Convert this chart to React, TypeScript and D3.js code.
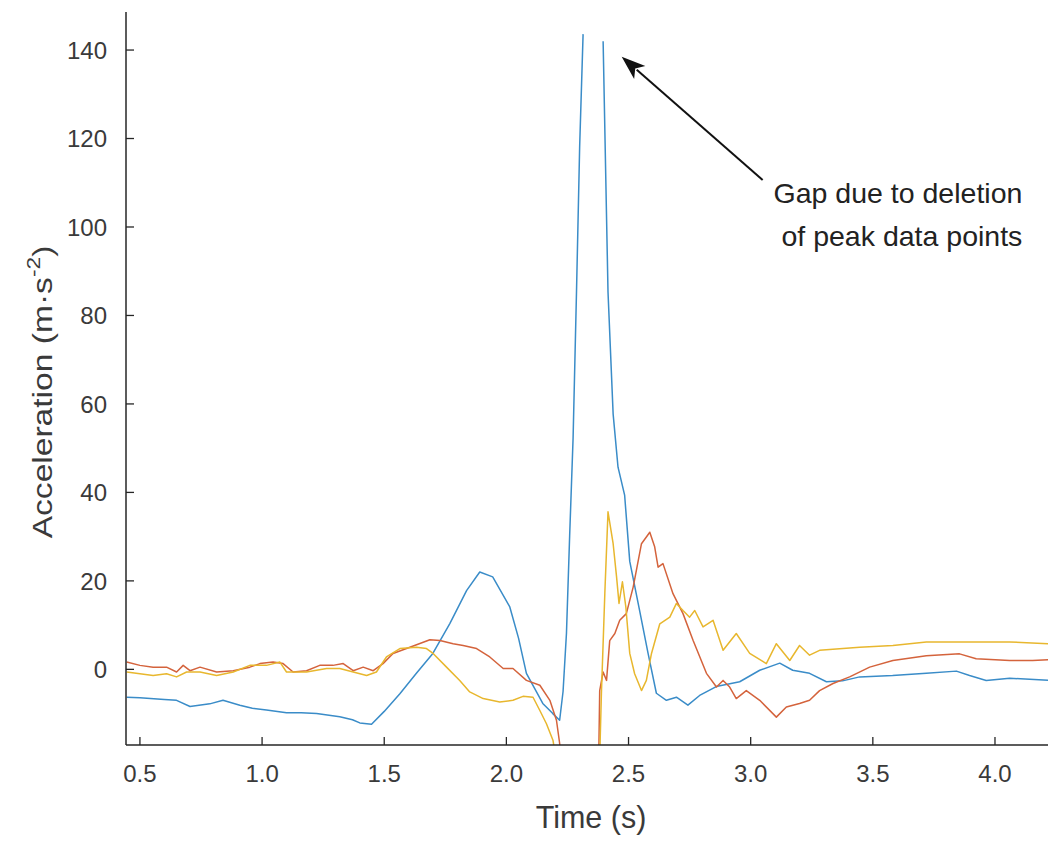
import React from "react";
import * as d3 from "d3";

// [time (s), acceleration (m·s^-2)]; NaN marks the deleted peak points
const blueSeries: [number, number][] = [
  [0.446, -6.3], [0.5, -6.4], [0.6, -6.8], [0.65, -7.0], [0.705, -8.4], [0.786, -7.8], [0.84, -7.0],
  [0.909, -8.1], [0.96, -8.8], [1.018, -9.2], [1.1, -9.8], [1.16, -9.8], [1.223, -10.0], [1.318, -10.7],
  [1.37, -11.4], [1.4, -12.1], [1.448, -12.4], [1.5, -9.5], [1.564, -5.5], [1.63, -1.0], [1.699, 3.6],
  [1.769, 10.4], [1.837, 17.8], [1.891, 22.0], [1.944, 20.9], [2.014, 14.1], [2.05, 7.0], [2.082, -0.9],
  [2.149, -7.7], [2.19, -10.0], [2.218, -11.5], [2.232, -5.0], [2.246, 8.2], [2.259, 30.2], [2.273, 52.2],
  [2.287, 85.3], [2.3, 118.3], [2.314, 143.6],
  [NaN, NaN],
  [2.396, 142.0], [2.416, 85.3], [2.437, 57.7], [2.457, 45.7], [2.484, 39.4], [2.505, 24.4], [2.546, 13.1],
  [2.58, 3.6], [2.614, -5.4], [2.655, -7.0], [2.696, -6.3], [2.743, -8.1], [2.791, -5.9], [2.859, -3.9],
  [2.955, -2.8], [3.037, -0.2], [3.119, 1.4], [3.172, -0.2], [3.241, -0.9], [3.31, -2.8], [3.376, -2.6],
  [3.446, -1.7], [3.581, -1.4], [3.719, -0.9], [3.842, -0.4], [3.896, -1.4], [3.964, -2.5], [4.06, -2.0],
  [4.223, -2.5],
];

const orangeSeries: [number, number][] = [
  [0.446, 1.65], [0.5, 0.9], [0.554, 0.5], [0.609, 0.5], [0.65, -0.6], [0.677, 0.9], [0.705, -0.3],
  [0.746, 0.5], [0.814, -0.6], [0.882, -0.3], [0.95, 0.5], [0.991, 1.3], [1.045, 1.65], [1.086, 1.3],
  [1.127, -0.6], [1.182, -0.3], [1.236, 0.9], [1.29, 0.9], [1.332, 1.3], [1.373, -0.3], [1.414, 0.5],
  [1.455, -0.3], [1.495, 1.3], [1.536, 3.6], [1.605, 5.0], [1.687, 6.7], [1.728, 6.5], [1.782, 5.8],
  [1.823, 5.4], [1.878, 4.7], [1.932, 2.8], [1.987, 0.2], [2.027, 0.2], [2.082, -2.5], [2.137, -3.6],
  [2.178, -7.0], [2.205, -11.5], [2.218, -16.7], [2.222, -20],
  [NaN, NaN],
  [2.378, -20], [2.382, -4.8], [2.396, -0.6], [2.41, -2.5], [2.423, 6.5], [2.444, 8.1], [2.464, 11.1],
  [2.491, 12.6], [2.519, 18.6], [2.553, 28.4], [2.587, 31.0], [2.607, 27.7], [2.621, 23.1], [2.641, 23.9],
  [2.682, 17.1], [2.723, 12.6], [2.764, 6.6], [2.819, -0.9], [2.86, -4.0], [2.887, -2.5], [2.914, -4.0],
  [2.941, -6.6], [2.982, -4.8], [3.037, -7.0], [3.105, -10.8], [3.146, -8.5], [3.2, -7.7], [3.241, -7.0],
  [3.282, -4.8], [3.337, -3.2], [3.405, -1.7], [3.487, 0.5], [3.582, 2.0], [3.719, 3.1], [3.855, 3.5],
  [3.923, 2.4], [4.06, 2.0], [4.154, 2.0], [4.223, 2.2],
];

const yellowSeries: [number, number][] = [
  [0.446, -0.6], [0.5, -1.0], [0.554, -1.4], [0.609, -1.0], [0.65, -1.7], [0.691, -0.6], [0.746, -0.6],
  [0.814, -1.4], [0.882, -0.6], [0.95, 0.9], [1.018, 0.9], [1.073, 1.65], [1.1, -0.6], [1.182, -0.6],
  [1.264, 0.2], [1.318, 0.2], [1.373, -0.6], [1.428, -1.4], [1.468, -0.6], [1.509, 2.8], [1.564, 4.7],
  [1.632, 5.0], [1.673, 4.7], [1.7, 3.6], [1.755, 0.5], [1.809, -2.5], [1.85, -5.1], [1.905, -6.6],
  [1.973, -7.4], [2.027, -7.0], [2.068, -6.1], [2.109, -6.3], [2.137, -9.3], [2.164, -12.3], [2.191, -16.1],
  [2.202, -20],
  [NaN, NaN],
  [2.382, -20], [2.389, -5.4], [2.403, 17.2], [2.416, 35.6], [2.437, 28.4], [2.451, 20.9], [2.461, 14.9],
  [2.475, 19.8], [2.489, 14.1], [2.505, 3.6], [2.525, -1.0], [2.553, -4.8], [2.573, -2.5], [2.594, 3.6],
  [2.628, 10.3], [2.669, 11.8], [2.696, 14.9], [2.723, 13.3], [2.75, 11.8], [2.771, 13.3], [2.805, 9.6],
  [2.846, 11.1], [2.887, 4.3], [2.941, 8.1], [2.996, 3.6], [3.064, 1.3], [3.105, 5.8], [3.16, 2.0],
  [3.2, 5.4], [3.241, 3.2], [3.282, 4.3], [3.446, 5.0], [3.582, 5.4], [3.719, 6.2], [3.923, 6.2],
  [4.06, 6.2], [4.223, 5.8],
];

const seriesList = [
  { name: "blue", data: blueSeries, color: "#3a8cc8" },
  { name: "orange", data: orangeSeries, color: "#d4633c" },
  { name: "yellow", data: yellowSeries, color: "#e8b72e" },
];

const xTicks = [0.5, 1.0, 1.5, 2.0, 2.5, 3.0, 3.5, 4.0];
const yTicks = [0, 20, 40, 60, 80, 100, 120, 140];
const xDomain: [number, number] = [0.443, 4.217];
const yDomain: [number, number] = [-17.1, 148.6];

// annotation in data coordinates
const arrowTip: [number, number] = [2.472, 138.5];
const arrowTail: [number, number] = [3.049, 110.6];
const noteLines = ["Gap due to deletion", "of peak data points"];
const noteAnchor: [number, number] = [4.112, 105.4];

const W = 1052;
const H = 841;
const left = 126, right = 1048, top = 12, bottom = 745;
const font = "'Liberation Sans', Arial, Helvetica, sans-serif";
const axisColor = "#262626";
const textColor = "#3a3a3a";

export default function App() {
  const x = d3.scaleLinear().domain(xDomain).range([left, right]);
  const y = d3.scaleLinear().domain(yDomain).range([bottom, top]);
  const line = d3
    .line<[number, number]>()
    .defined((d) => !isNaN(d[0]) && !isNaN(d[1]))
    .x((d) => x(d[0]))
    .y((d) => y(d[1]));

  const tipX = x(arrowTip[0]), tipY = y(arrowTip[1]);
  const tailX = x(arrowTail[0]), tailY = y(arrowTail[1]);
  const ang = Math.atan2(tipY - tailY, tipX - tailX);
  const headLen = 24, headHalf = 8.5;
  const baseX = tipX - headLen * Math.cos(ang);
  const baseY = tipY - headLen * Math.sin(ang);
  const px = -Math.sin(ang), py = Math.cos(ang);
  const headPath = `M${tipX},${tipY} L${baseX + px * headHalf},${baseY + py * headHalf} L${baseX + 6 * Math.cos(ang)},${baseY + 6 * Math.sin(ang)} L${baseX - px * headHalf},${baseY - py * headHalf} Z`;

  const tickLen = 8;
  const lineGap = 43;

  return (
    <svg
      width={W}
      height={H}
      style={{ position: "absolute", left: 0, top: 0, background: "#fff" }}
      fontFamily={font}
    >
      <rect x={0} y={0} width={W} height={H} fill="#fff" />
      <defs>
        <clipPath id="plotClip">
          <rect x={left} y={top} width={right - left} height={bottom - top} />
        </clipPath>
      </defs>

      <g clipPath="url(#plotClip)">
        {seriesList.map((s) => (
          <path
            key={s.name}
            d={line(s.data) || ""}
            fill="none"
            stroke={s.color}
            strokeWidth={1.5}
            strokeLinejoin="round"
          />
        ))}
      </g>

      {/* axes */}
      <line x1={left} y1={top} x2={left} y2={bottom} stroke={axisColor} strokeWidth={1.5} />
      <line x1={left} y1={bottom} x2={right} y2={bottom} stroke={axisColor} strokeWidth={1.5} />

      {yTicks.map((t) => (
        <g key={"y" + t}>
          <line x1={left} x2={left + tickLen} y1={y(t)} y2={y(t)} stroke={axisColor} strokeWidth={1.3} />
          <text
            x={left - 19}
            y={y(t)}
            dy="0.36em"
            textAnchor="end"
            fontSize={24}
            fill={textColor}
          >
            {t}
          </text>
        </g>
      ))}

      {xTicks.map((t) => (
        <g key={"x" + t}>
          <line x1={x(t)} x2={x(t)} y1={bottom} y2={bottom - tickLen} stroke={axisColor} strokeWidth={1.3} />
          <text x={x(t)} y={bottom + 37} textAnchor="middle" fontSize={24} fill={textColor}>
            {t.toFixed(1)}
          </text>
        </g>
      ))}

      <text x={591} y={828} textAnchor="middle" fontSize={30.5} fill={textColor}>
        Time (s)
      </text>

      <text
        transform={`translate(52, 392) rotate(-90) scale(1.2, 1)`}
        textAnchor="middle"
        fontSize={28}
        fill={textColor}
      >
        Acceleration (m·s
        <tspan dy={-12} fontSize={19}>-2</tspan>
        <tspan dy={12}>)</tspan>
      </text>

      {/* annotation */}
      <line x1={tailX} y1={tailY} x2={baseX + 4 * Math.cos(ang)} y2={baseY + 4 * Math.sin(ang)} stroke="#111" strokeWidth={2} />
      <path d={headPath} fill="#111" />
      {noteLines.map((l, i) => (
        <text
          key={l}
          x={x(noteAnchor[0])}
          y={y(noteAnchor[1]) + i * lineGap}
          textAnchor="end"
          fontSize={28.5}
          fill="#222"
        >
          {l}
        </text>
      ))}
    </svg>
  );
}
